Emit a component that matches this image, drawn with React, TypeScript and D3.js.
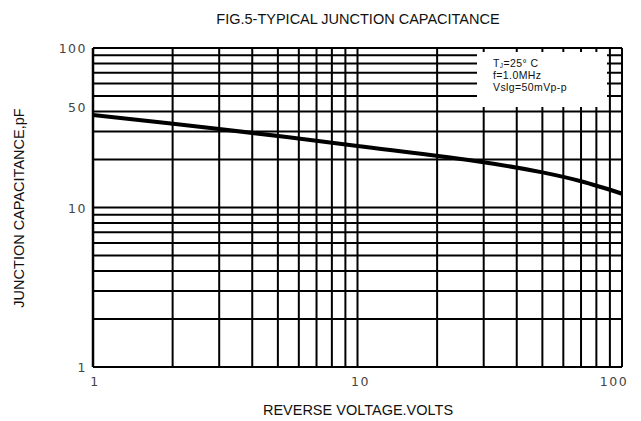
import React from 'react';
import * as d3 from 'd3';

// log grid values (1..100)
const gridValues = [1, 2, 3, 4, 5, 6, 7, 8, 9, 10, 20, 30, 40, 50, 60, 70, 80, 90, 100];
const xTicks = [1, 10, 100];
const yTicks = [1, 10, 50, 100];

// reverse voltage (V) vs junction capacitance (pF)
const voltage = [1, 3, 10, 30, 50, 70, 100];
const capacitance = [38.0, 31.1, 24.3, 19.2, 16.6, 14.6, 12.2];

const legendLines = ['f=1.0MHz', 'Vslg=50mVp-p'];

export default function App() {
  const margin = { top: 48, right: 19, bottom: 54, left: 93 };
  const W = 641, H = 421;
  const x = d3.scaleLog().domain([1, 100]).range([margin.left, W - margin.right]);
  const y = d3.scaleLog().domain([1, 100]).range([H - margin.bottom, margin.top]);

  const data = voltage.map((v, i) => [v, capacitance[i]] as [number, number]);
  const line = d3.line<[number, number]>()
    .x(d => x(d[0]))
    .y(d => y(d[1]))
    .curve(d3.curveCatmullRom.alpha(0.5));

  const legend = { x: 477, y: 52, w: 130, h: 55 };
  const tickFont = { fontFamily: 'DejaVu Sans, sans-serif', fontSize: 12.5, fill: '#444', letterSpacing: 1.5 };

  return (
    <svg width={W} height={H} style={{ position: 'absolute', left: 0, top: 0, background: '#fff' }}>
      <text x={358} y={24} textAnchor="middle" fontFamily="Liberation Sans, Arial, sans-serif" fontSize={14.5} fill="#111">
        FIG.5-TYPICAL JUNCTION CAPACITANCE
      </text>

      <g stroke="#000" strokeWidth={2}>
        {gridValues.map(v => (
          <line key={'v' + v} x1={x(v)} x2={x(v)} y1={y(1)} y2={y(100)} />
        ))}
        {gridValues.map(v => (
          <line key={'h' + v} x1={x(1)} x2={x(100)} y1={y(v)} y2={y(v)} />
        ))}
        <line x1={x(1)} x2={x(1)} y1={y(1)} y2={y(100)} strokeWidth={2.5} />
      </g>

      <rect x={legend.x} y={legend.y} width={legend.w} height={legend.h} fill="#fff" />
      <g fontFamily="Liberation Sans, Arial, sans-serif" fontSize={10.5} fill="#111" letterSpacing={0.4}>
        <text x={legend.x + 16} y={legend.y + 14.5}>
          T<tspan fontSize={6.5} dy={1.5}>J</tspan><tspan dy={-1.5}>=25° C</tspan>
        </text>
        {legendLines.map((t, i) => (
          <text key={t} x={legend.x + 16} y={legend.y + 26.5 + i * 12}>{t}</text>
        ))}
      </g>

      <path d={line(data) || ''} fill="none" stroke="#000" strokeWidth={4} />

      <g {...tickFont} textAnchor="end">
        {yTicks.map(v => (
          <text key={v} x={87} y={y(v) + (v === 50 ? 16 : 5)}>{v}</text>
        ))}
      </g>
      <g {...tickFont} textAnchor="middle">
        {xTicks.map(v => (
          <text key={v} x={x(v) + (v === 100 ? -8 : v === 1 ? 2 : 3)} y={386}>{v}</text>
        ))}
      </g>

      <text x={358} y={415} textAnchor="middle" fontFamily="Liberation Sans, Arial, sans-serif" fontSize={14.5} fill="#111">
        REVERSE VOLTAGE.VOLTS
      </text>
      <text transform="translate(24,208) rotate(-90)" textAnchor="middle" fontFamily="Liberation Sans, Arial, sans-serif" fontSize={14.5} fill="#111">
        JUNCTION CAPACITANCE,pF
      </text>
    </svg>
  );
}
